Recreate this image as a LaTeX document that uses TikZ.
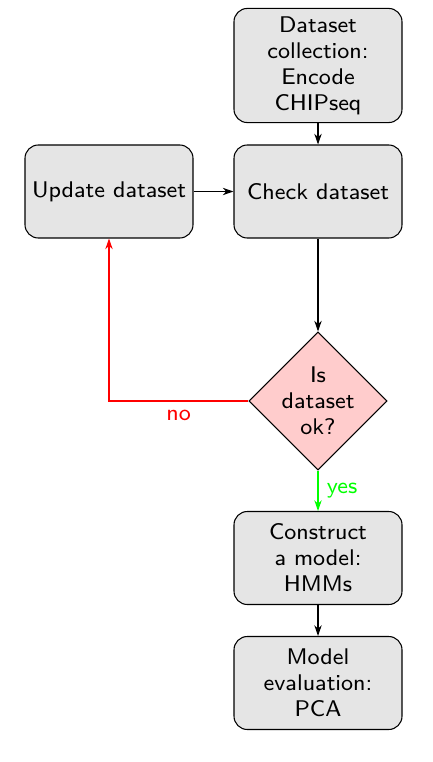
\documentclass[tikz,border=0pt]{standalone}
\usepackage{fontspec}
\setsansfont{lmsans8-regular.otf}
\usetikzlibrary{shapes.geometric,arrows.meta}
\begin{document}
\begin{tikzpicture}[x=0.75pt,y=-0.75pt,
  every node/.style={font=\sffamily\fontsize{17}{19.5}\selectfont},
  blockbox/.style={draw, line width=0.8pt, fill=gray!20, rounded corners=10pt,
    minimum width=126pt, minimum height=69.75pt, inner xsep=0pt, inner ysep=6pt, align=center},
  decisionbox/.style={draw, line width=0.8pt, fill=red!20, diamond, aspect=1,
    minimum size=103.5pt, inner sep=-4pt, align=center},
  conn/.style={line width=0.8pt, -{Stealth[length=8pt,width=5.5pt,inset=2.5pt]}}]
\useasboundingbox (0,0) rectangle (432,762);
\node[blockbox] (data) at (318,65.5) {Dataset\\collection:\\Encode\\CHIPseq};
\node[blockbox] (check) at (318,191.5) {Check dataset};
\node[blockbox] (update) at (109,191.5) {Update dataset};
\node[decisionbox] (decide) at (318,401) {Is\\dataset\\ok?};
\node[blockbox] (model) at (318,558) {Construct\\a model:\\HMMs};
\node[blockbox] (eval) at (318,683) {Model\\evaluation:\\PCA};
\draw[conn] (data) -- (check);
\draw[conn] (update) -- (check);
\draw[conn] (check) -- (decide);
\draw[conn, red] (decide.west) -| node[pos=0.25, below=3pt, text=red] {no} (update.south);
\draw[conn, green] (decide.south) -- node[midway, right=3pt, text=green] {yes} (model.north);
\draw[conn] (model) -- (eval);
\end{tikzpicture}
\end{document}
